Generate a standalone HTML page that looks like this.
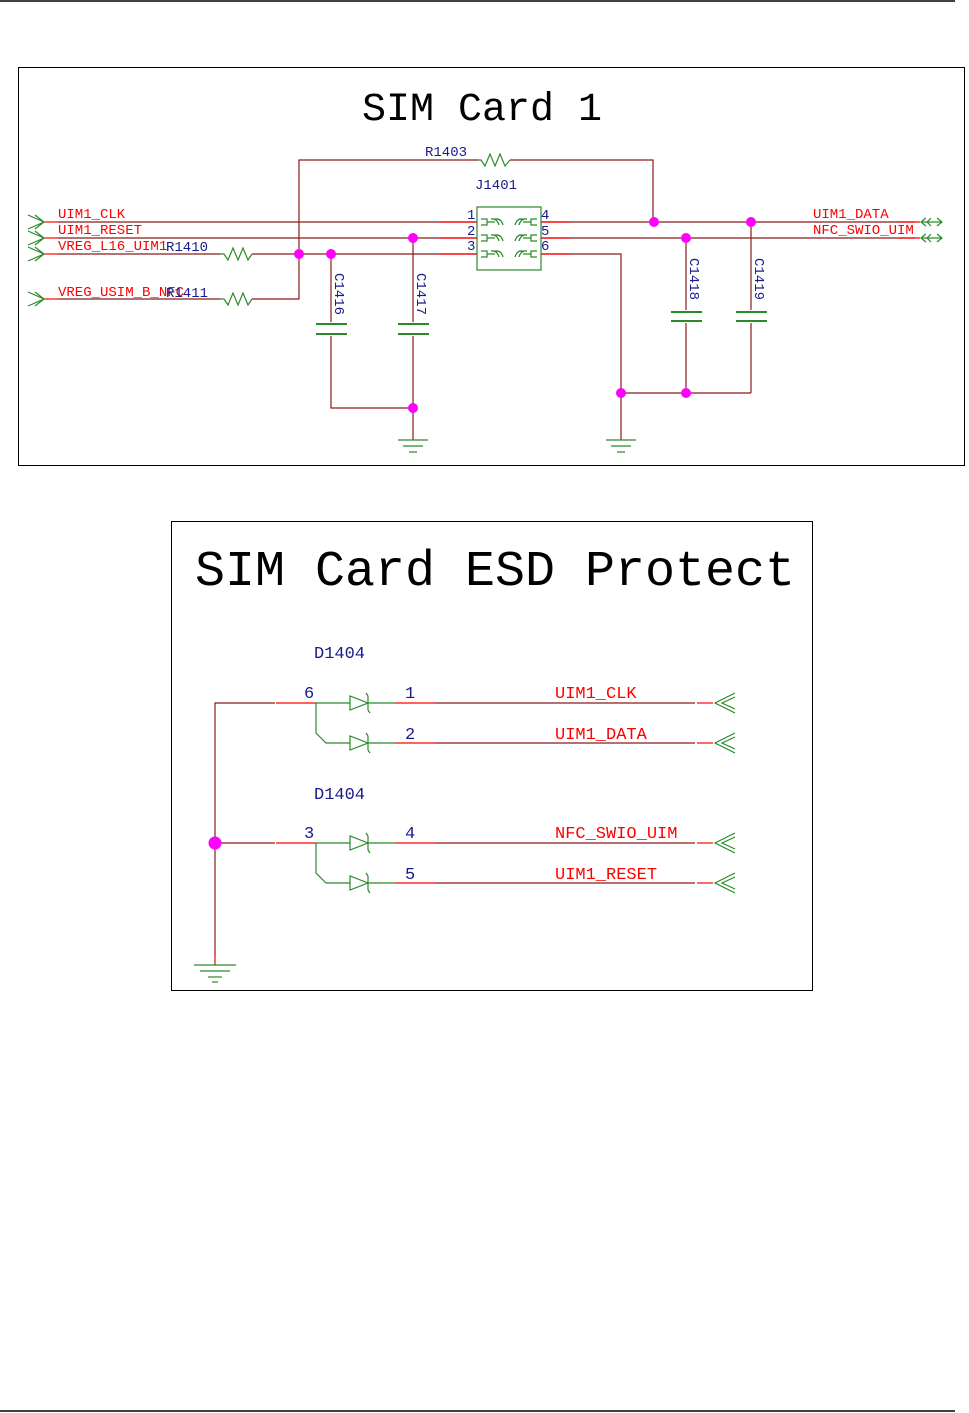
<!DOCTYPE html>
<html><head><meta charset="utf-8"><style>
html,body{margin:0;padding:0;background:#fff;}
svg{display:block;}
text{font-family:"Liberation Mono",monospace;}
</style></head><body>
<svg width="969" height="1413" viewBox="0 0 969 1413" xmlns="http://www.w3.org/2000/svg">
<line x1="0" y1="1" x2="955" y2="1" stroke="#000" stroke-width="1.5"/>
<line x1="0" y1="1411" x2="955" y2="1411" stroke="#000" stroke-width="1.5"/>

<rect x="18.5" y="67.5" width="946" height="398" fill="none" stroke="#000" stroke-width="1"/>
<text x="482" y="120" font-size="40" text-anchor="middle" fill="#000">SIM Card 1</text>

<g fill="none" stroke-width="1.2">
<g stroke="#8b1a1a">
<line x1="58" y1="222" x2="477" y2="222"/>
<line x1="58" y1="238" x2="477" y2="238"/>
<line x1="58" y1="254" x2="220" y2="254"/>
<line x1="252" y1="254" x2="477" y2="254"/>
<line x1="58" y1="299" x2="220" y2="299"/>
<polyline points="252,299 299,299 299,160 478,160"/>
<polyline points="510,160 653,160 653,222"/>
<line x1="541" y1="222" x2="915" y2="222"/>
<line x1="541" y1="238" x2="915" y2="238"/>
<polyline points="541,254 621,254 621,440"/>
<line x1="621" y1="393" x2="751" y2="393"/>
<polyline points="331,254 331,322"/>
<polyline points="331,336 331,408 413,408"/>
<line x1="413" y1="238" x2="413" y2="322"/>
<line x1="413" y1="336" x2="413" y2="440"/>
<line x1="686" y1="238" x2="686" y2="310"/>
<line x1="686" y1="323" x2="686" y2="393"/>
<line x1="751" y1="222" x2="751" y2="310"/>
<line x1="751" y1="323" x2="751" y2="393"/>
</g>
<g stroke="#ff0000">
<line x1="44" y1="222" x2="58" y2="222"/>
<line x1="44" y1="238" x2="58" y2="238"/>
<line x1="44" y1="254" x2="58" y2="254"/>
<line x1="44" y1="299" x2="58" y2="299"/>
<line x1="440" y1="222" x2="477" y2="222"/>
<line x1="440" y1="238" x2="477" y2="238"/>
<line x1="440" y1="254" x2="477" y2="254"/>
<line x1="541" y1="222" x2="570" y2="222"/>
<line x1="541" y1="238" x2="570" y2="238"/>
<line x1="541" y1="254" x2="570" y2="254"/>
<line x1="898" y1="222" x2="920" y2="222"/>
<line x1="898" y1="238" x2="920" y2="238"/>
</g>
<g stroke="#2a8a2a">
<polyline points="28,215 44,222 28,229"/><polyline points="35,215 44,222 35,229"/>
<polyline points="28,231 44,238 28,245"/><polyline points="35,231 44,238 35,245"/>
<polyline points="28,247 44,254 28,261"/><polyline points="35,247 44,254 35,261"/>
<polyline points="28,292 44,299 28,306"/><polyline points="35,292 44,299 35,306"/>
<polyline points="926,218 921,222 926,226"/><line x1="921" y1="222" x2="942" y2="222"/><polyline points="937,218 942,222 937,226"/><polyline points="931,218 927,222 931,226"/>
<polyline points="926,234 921,238 926,242"/><line x1="921" y1="238" x2="942" y2="238"/><polyline points="937,234 942,238 937,242"/><polyline points="931,234 927,238 931,242"/>
<polyline points="220,254 224,254 228,260 233,248 238,260 243,248 248,260 252,254"/>
<polyline points="220,299 224,299 228,305 233,293 238,305 243,293 248,305 252,299"/>
<polyline points="478,160 481,160 485,166 490,154 495,166 500,154 505,166 510,160"/>
<rect x="477" y="207" width="64" height="63"/>
<path d="M481,219h6v6h-6 M487,222h8 M495,219q6,-1 8,6 M491,219q6,-1 8,6"/>
<path d="M481,235h6v6h-6 M487,238h8 M495,235q6,-1 8,6 M491,235q6,-1 8,6"/>
<path d="M481,251h6v6h-6 M487,254h8 M495,251q6,-1 8,6 M491,251q6,-1 8,6"/>
<path d="M537,219h-6v6h6 M531,222h-8 M523,219q-6,-1 -8,6 M527,219q-6,-1 -8,6"/>
<path d="M537,235h-6v6h6 M531,238h-8 M523,235q-6,-1 -8,6 M527,235q-6,-1 -8,6"/>
<path d="M537,251h-6v6h6 M531,254h-8 M523,251q-6,-1 -8,6 M527,251q-6,-1 -8,6"/>
<line x1="316" y1="324" x2="347" y2="324" stroke-width="2"/><line x1="316" y1="334" x2="347" y2="334" stroke-width="2"/>
<line x1="398" y1="324" x2="429" y2="324" stroke-width="2"/><line x1="398" y1="334" x2="429" y2="334" stroke-width="2"/>
<line x1="671" y1="312" x2="702" y2="312" stroke-width="2"/><line x1="671" y1="321" x2="702" y2="321" stroke-width="2"/>
<line x1="736" y1="312" x2="767" y2="312" stroke-width="2"/><line x1="736" y1="321" x2="767" y2="321" stroke-width="2"/>
<line x1="398" y1="440" x2="428" y2="440"/><line x1="403" y1="446" x2="423" y2="446"/><line x1="409" y1="452" x2="417" y2="452"/>
<line x1="606" y1="440" x2="636" y2="440"/><line x1="611" y1="446" x2="631" y2="446"/><line x1="617" y1="452" x2="625" y2="452"/>
</g>
<g fill="#ff00ff">
<circle cx="299" cy="254" r="5"/><circle cx="331" cy="254" r="5"/><circle cx="413" cy="238" r="5"/>
<circle cx="654" cy="222" r="5"/><circle cx="751" cy="222" r="5"/><circle cx="686" cy="238" r="5"/>
<circle cx="413" cy="408" r="5"/><circle cx="621" cy="393" r="5"/><circle cx="686" cy="393" r="5"/>
</g>
<g font-size="14" fill="#ff0000">
<text x="58" y="218">UIM1_CLK</text>
<text x="58" y="234">UIM1_RESET</text>
<text x="58" y="250">VREG_L16_UIM1</text>
<text x="58" y="296">VREG_USIM_B_NFC</text>
<text x="813" y="218">UIM1_DATA</text>
<text x="813" y="234">NFC_SWIO_UIM</text>
</g>
<g font-size="14" fill="#1a1a8c">
<text x="166" y="251">R1410</text>
<text x="166" y="297">R1411</text>
<text x="425" y="156">R1403</text>
<text x="475" y="189">J1401</text>
<text x="467" y="219">1</text><text x="467" y="235">2</text><text x="467" y="250">3</text>
<text x="541" y="219">4</text><text x="541" y="235">5</text><text x="541" y="250">6</text>
<text transform="translate(335,273) rotate(90)">C1416</text>
<text transform="translate(417,273) rotate(90)">C1417</text>
<text transform="translate(690,258) rotate(90)">C1418</text>
<text transform="translate(755,258) rotate(90)">C1419</text>
</g>

<rect x="171.5" y="521.5" width="641" height="469" fill="none" stroke="#000" stroke-width="1"/>
<text x="495" y="585" font-size="50" text-anchor="middle" fill="#000">SIM Card ESD Protect</text>
<g fill="none" stroke-width="1.2">
<g stroke="#8b1a1a">
<polyline points="275,703 215,703 215,955"/>
<line x1="215" y1="843" x2="275" y2="843"/>
<line x1="435" y1="703" x2="695" y2="703"/>
<line x1="435" y1="743" x2="695" y2="743"/>
<line x1="435" y1="843" x2="695" y2="843"/>
<line x1="435" y1="883" x2="695" y2="883"/>
</g>
<g stroke="#ff0000">
<line x1="276" y1="703" x2="316" y2="703"/><line x1="276" y1="843" x2="316" y2="843"/>
<line x1="395" y1="703" x2="435" y2="703"/><line x1="395" y1="743" x2="435" y2="743"/>
<line x1="395" y1="843" x2="435" y2="843"/><line x1="395" y1="883" x2="435" y2="883"/>
<line x1="697" y1="703" x2="713" y2="703"/><line x1="697" y1="743" x2="713" y2="743"/>
<line x1="697" y1="843" x2="713" y2="843"/><line x1="697" y1="883" x2="713" y2="883"/>
<line x1="215" y1="955" x2="215" y2="965"/>
</g>
<g stroke="#2a8a2a">
<polyline points="316,703 316,733 326,743 350,743"/><line x1="316" y1="703" x2="350" y2="703"/>
<polyline points="316,843 316,873 326,883 350,883"/><line x1="316" y1="843" x2="350" y2="843"/>
<path d="M350,696 L350,710 L368,703 Z M368,696 L368,710 M368,696 l-2,-3 M368,710 l2,3 M368,703 L395,703"/>
<path d="M350,736 L350,750 L368,743 Z M368,736 L368,750 M368,736 l-2,-3 M368,750 l2,3 M368,743 L395,743"/>
<path d="M350,836 L350,850 L368,843 Z M368,836 L368,850 M368,836 l-2,-3 M368,850 l2,3 M368,843 L395,843"/>
<path d="M350,876 L350,890 L368,883 Z M368,876 L368,890 M368,876 l-2,-3 M368,890 l2,3 M368,883 L395,883"/>
<polyline points="735,693 715,703 735,713"/><polyline points="735,697 722,703 735,709"/>
<polyline points="735,733 715,743 735,753"/><polyline points="735,737 722,743 735,749"/>
<polyline points="735,833 715,843 735,853"/><polyline points="735,837 722,843 735,849"/>
<polyline points="735,873 715,883 735,893"/><polyline points="735,877 722,883 735,889"/>
<line x1="194" y1="965" x2="236" y2="965"/><line x1="200" y1="971" x2="230" y2="971"/><line x1="208" y1="977" x2="222" y2="977"/><line x1="212" y1="982" x2="218" y2="982"/>
</g>
</g>
<circle cx="215" cy="843" r="6.5" fill="#ff00ff"/>
<g font-size="17" fill="#1a1a8c">
<text x="314" y="658">D1404</text>
<text x="314" y="799">D1404</text>
<text x="304" y="698">6</text><text x="405" y="698">1</text><text x="405" y="739">2</text>
<text x="304" y="838">3</text><text x="405" y="838">4</text><text x="405" y="879">5</text>
</g>
<g font-size="17" fill="#ff0000">
<text x="555" y="698">UIM1_CLK</text>
<text x="555" y="739">UIM1_DATA</text>
<text x="555" y="838">NFC_SWIO_UIM</text>
<text x="555" y="879">UIM1_RESET</text>
</g>
</svg>
</body></html>
